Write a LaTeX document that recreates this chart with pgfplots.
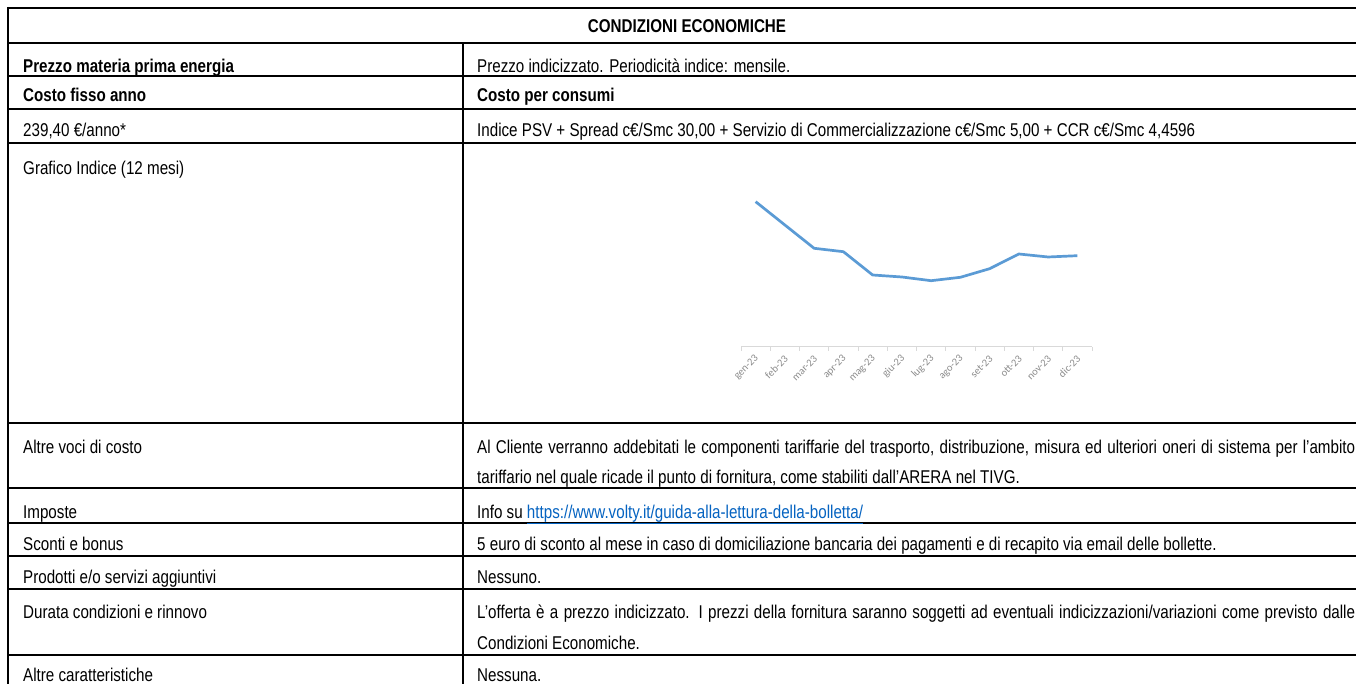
\documentclass[border=0pt]{standalone}
\usepackage{fontspec}
\setmainfont{Liberation Sans}[FakeStretch=0.82]
\newfontfamily\carlito{Carlito}
\usepackage{pgfplots}
\pgfplotsset{compat=1.18}
\definecolor{xlblue}{RGB}{91,155,213}
\definecolor{linkblue}{RGB}{5,99,193}
\begin{document}
\begin{tikzpicture}[x=1pt,y=1pt]
\clip (0,0) rectangle (1356,684);
\fill[white] (0,0) rectangle (1356,684);
\tikzset{t/.style={anchor=base west, inner sep=0pt, font=\fontsize{18.5}{21}\selectfont},
         tb/.style={t, font=\fontsize{18.5}{21}\selectfont\bfseries}}
\begin{scope}[line width=2pt]
\draw (8,676) -- (1356,676);
\foreach \yy in {641,608,575,541,261,196,161,128,95,29} \draw (7,\yy) -- (1356,\yy);
\draw (8,677) -- (8,0);
\draw (462.5,641) -- (462.5,0);
\end{scope}
% text
\node[tb, anchor=base] at (687,651) {CONDIZIONI ECONOMICHE};
\node[tb] at (23,611.3) {Prezzo materia prima energia};
\node[t] at (477,611.3) {Prezzo indicizzato. Periodicità indice: mensile.};
\node[tb] at (23,582.3) {Costo fisso anno};
\node[tb] at (477,582.3) {Costo per consumi};
\node[t] at (23,547) {239,40 €/anno*};
\node[t] at (477,547) {Indice PSV + Spread c€/Smc 30,00 + Servizio di Commercializzazione c€/Smc 5,00 + CCR c€/Smc 4,4596};
\node[t] at (23,509) {Grafico Indice (12 mesi)};
\node[t] at (23,230.7) {Altre voci di costo};
\node[t] at (477,230.7) {\makebox[878pt][s]{Al Cliente verranno addebitati le componenti tariffarie del trasporto, distribuzione, misura ed ulteriori oneri di sistema per l’ambito}};
\node[t] at (477,200) {tariffario nel quale ricade il punto di fornitura, come stabiliti dall’ARERA nel TIVG.};
\node[t] at (23,165.7) {Imposte};
\node[t] at (477,165.7) {Info su \textcolor{linkblue}{\underline{https://www.volty.it/guida-alla-lettura-della-bolletta/}}};
\node[t] at (23,133) {Sconti e bonus};
\node[t] at (477,133) {5 euro di sconto al mese in caso di domiciliazione bancaria dei pagamenti e di recapito via email delle bollette.};
\node[t] at (23,100) {Prodotti e/o servizi aggiuntivi};
\node[t] at (477,100) {Nessuno.};
\node[t] at (23,65.7) {Durata condizioni e rinnovo};
\node[t] at (477,65.7) {\makebox[878pt][s]{L'offerta è a prezzo indicizzato. I prezzi della fornitura saranno soggetti ad eventuali indicizzazioni/variazioni come previsto dalle}};
\node[t] at (477,34) {Condizioni Economiche.};
\node[t] at (23,2.3) {Altre caratteristiche};
\node[t] at (477,2.3) {Nessuna.};
% chart
\begin{axis}[at={(741pt,337pt)}, anchor=south west, scale only axis,
  width=351pt, height=172pt, xmin=0, xmax=12, ymin=0, ymax=86,
  axis x line*=bottom, hide y axis,
  x axis line style={black!15, line width=1pt, -},
  xtick={0.5,1.5,...,11.5},
  xticklabels={gen-23,feb-23,mar-23,apr-23,mag-23,giu-23,lug-23,ago-23,set-23,ott-23,nov-23,dic-23},
  major tick length=0pt,
  extra x ticks={0,1,...,12}, extra x tick labels={},
  extra x tick style={major tick length=4pt, tick align=outside, tick style={black!15, line width=1pt}},
  xticklabel style={xshift=1.4pt, yshift=-10pt, rotate=45, anchor=east, inner sep=0pt,
     font=\carlito\fontsize{10.5}{10.5}\selectfont, text=black!45},
  clip=false]
\addplot[xlblue, line width=2.7pt, line join=round] coordinates {
(0.5,72.65) (1.5,61.0) (2.5,49.35) (3.5,47.65) (4.5,36.0) (5.5,35.0)
(6.5,33.15) (7.5,34.85) (8.5,39.15) (9.5,46.5) (10.5,45.0) (11.5,45.65)};
\end{axis}
\end{tikzpicture}
\end{document}
